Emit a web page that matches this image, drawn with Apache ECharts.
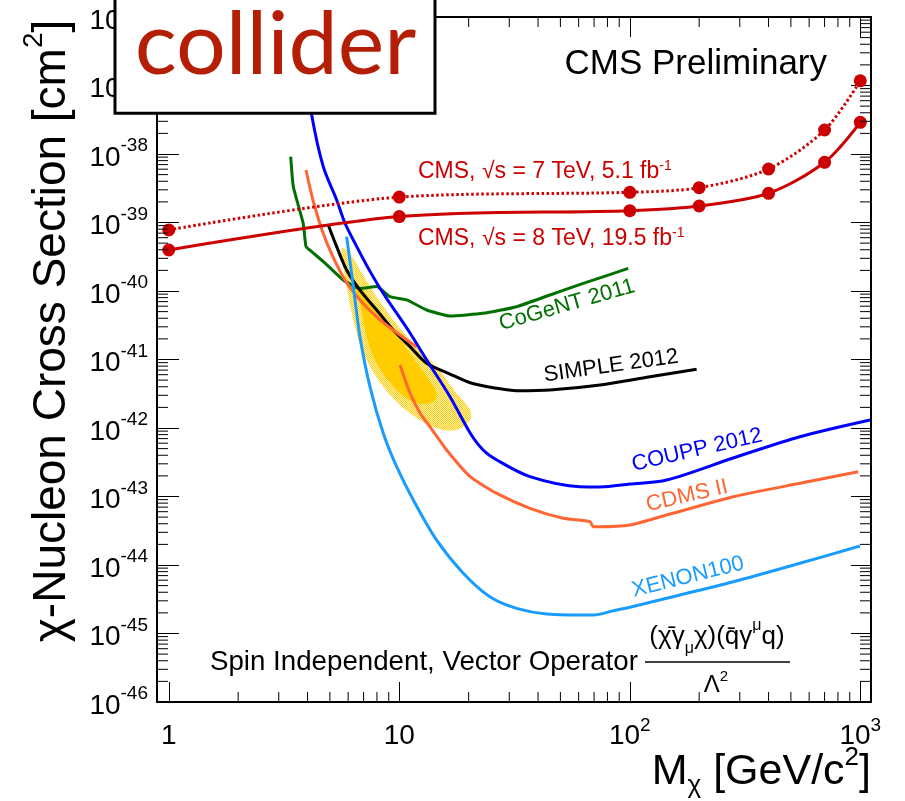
<!DOCTYPE html>
<html>
<head>
<meta charset="utf-8">
<title>Spin Independent, Vector Operator</title>
<script src="https://cdn.jsdelivr.net/npm/echarts@6.0.0/dist/echarts.min.js"></script>
<style>
  html, body { margin: 0; padding: 0; background: #fff; }
  #chart { width: 905px; height: 801px; }
</style>
</head>
<body>
<div id="chart"></div>
<script>
// limits: mass in GeV/c2, cross section in cm2
var cmsMass = [1, 10, 100, 200, 400, 700, 1000];
var cms7Xsec = [7.8e-40, 2.35e-39, 2.76e-39, 3.22e-39, 6.04e-39, 2.24e-38, 1.17e-37];
var cms8Xsec = [3.97e-40, 1.22e-39, 1.49e-39, 1.74e-39, 2.67e-39, 7.57e-39, 2.9e-38];

var couppMass = [3.6, 4.17, 4.68, 5.35, 5.81, 6.54, 7.34, 8.5, 11.13, 13.15, 16.6, 20.3, 23.1, 26.5, 36.9, 60.8, 74.3, 100, 144.5, 281, 547, 1102];
var couppXsec = [1.0e-36, 3.71e-38, 6.53e-39, 2.13e-39, 9.84e-40, 4.44e-40, 2.14e-40, 9.35e-41, 2.44e-41, 9.84e-42, 2.86e-42, 8.45e-43, 4.78e-43, 3.41e-43, 1.95e-43, 1.39e-43, 1.38e-43, 1.52e-43, 1.74e-43, 3.65e-43, 7.46e-43, 1.31e-42];

var cogentMass = [3.38, 3.47, 3.83, 3.94, 4.17, 4.76, 5.71, 6.75, 7.98, 9.11, 10.77, 13.15, 16.6, 23.1, 32.3, 45.1, 62.8, 98.5];
var cogentXsec = [9.14e-39, 3.33e-39, 9.72e-40, 4.44e-40, 3.75e-40, 2.56e-40, 1.45e-40, 1.09e-40, 1.16e-40, 8.26e-41, 7.4e-41, 5.28e-41, 4.32e-41, 4.72e-41, 5.9e-41, 8.75e-41, 1.29e-40, 2.14e-40];

var simpleMass = [4.92, 5.35, 5.91, 6.75, 7.98, 9.42, 11.13, 13.15, 16.6, 20.3, 26.5, 32.3, 45.1, 74.3, 122.4, 195];
var simpleXsec = [9.2e-40, 4.44e-40, 2.03e-40, 1.03e-40, 5.28e-41, 2.7e-41, 1.54e-41, 8.81e-42, 6.14e-42, 4.58e-42, 3.8e-42, 3.51e-42, 3.59e-42, 4.25e-42, 5.61e-42, 7.19e-42];

var cdmsLowMass = [3.94, 4.22, 4.62, 5.11, 5.81, 6.75, 8.25, 10.07, 11.9];
var cdmsLowXsec = [5.83e-39, 2.13e-39, 7.78e-40, 3.36e-40, 1.45e-40, 7.4e-41, 3.78e-41, 2.28e-41, 1.52e-41];

var cdmsMass = [10.07, 11.13, 12.3, 13.6, 16.05, 20.3, 26.5, 36.9, 51.5, 67.2, 69.4, 74.3, 100.2, 144.5, 281, 547, 980];
var cdmsXsec = [8.32e-42, 3.24e-42, 1.66e-42, 1.04e-42, 4.78e-43, 1.95e-43, 1.11e-43, 6.73e-44, 4.81e-44, 4.29e-44, 3.62e-44, 3.62e-44, 3.84e-44, 5.37e-44, 9.93e-44, 1.56e-43, 2.3e-43];

var xenonMass = [5.91, 6.32, 6.75, 7.46, 8.52, 9.74, 11.5, 14.5, 18.95, 24.7, 32.3, 43.6, 69.4, 84.8, 100.2, 144.5, 281, 547, 997];
var xenonXsec = [6.21e-40, 1.16e-40, 2.15e-41, 4.01e-42, 8.37e-43, 2.72e-43, 8.89e-44, 2.32e-44, 7.57e-45, 3.44e-45, 2.33e-45, 1.93e-45, 1.86e-45, 2.15e-45, 2.42e-45, 3.27e-45, 5.7e-45, 1.06e-44, 1.89e-44];

// DAMA-like allowed region (outer hatched and inner solid outlines)
var damaOuterMass = [5.62, 5.91, 6.32, 6.98, 8.52, 11.13, 14.5, 17.7, 20.3, 20.3, 17.7, 14.5, 11.13, 9.42, 7.98, 6.75, 6.11];
var damaOuterXsec = [4.2e-40, 1.16e-40, 3.78e-41, 1.24e-41, 4.01e-42, 1.64e-42, 9.91e-43, 9.35e-43, 1.31e-42, 1.83e-42, 3.21e-42, 7.85e-42, 1.93e-41, 3.78e-41, 8.26e-41, 2.03e-40, 3.55e-40];
var damaInnerMass = [6.32, 6.75, 7.22, 7.98, 9.74, 11.9, 14.05, 14.5, 13.15, 11.13, 9.42, 7.98, 6.98];
var damaInnerXsec = [1.45e-40, 6.61e-41, 2.15e-41, 8.81e-42, 3.59e-42, 2.3e-42, 2.42e-42, 3.21e-42, 5.61e-42, 1.23e-41, 2.7e-41, 5.28e-41, 1.03e-40];

// axis range and decade ticks (as powers of ten)
var massMin = 0.889, massMax = 1113;
var xsecMin = 1e-46, xsecMax = 1e-36;
var massDecades = [0, 1, 2, 3];
var xsecDecades = [-46, -45, -44, -43, -42, -41, -40, -39, -38, -37, -36];

var FONT = 'Liberation Sans';
var lg = Math.log10;

// axes run in decades (log10 of the value); minor ticks at 2..9 of each decade
var minorX = [], minorY = [];
massDecades.slice(0, 3).forEach(function (d) {
  for (var k = 2; k <= 9; k++) minorX.push(d + lg(k));
});
xsecDecades.slice(0, 10).forEach(function (d) {
  for (var k = 2; k <= 9; k++) minorY.push(d + lg(k));
});

function pairs(ms, ss) {
  return ms.map(function (m, i) { return [lg(m), lg(ss[i])]; });
}

// rich styles for a main text with superscript / subscript pieces
function scriptRich(F, S, H, dSup, dSub, color) {
  var k = 0.3465;
  var r = {
    b: { fontSize: F, fontFamily: FONT, lineHeight: H, verticalAlign: 'middle' },
    sup: { fontSize: S, fontFamily: FONT, height: H + 2 * k * (F - S) - 2 * dSup, verticalAlign: 'top' },
    sub: { fontSize: S, fontFamily: FONT, height: H - 2 * (k * (F - S) + dSub), verticalAlign: 'bottom' }
  };
  if (color) { r.b.fill = color; r.sup.fill = color; r.sub.fill = color; }
  return r;
}

function powLabel(v) {
  var p = Math.round(v);
  if (Math.abs(v - p) > 1e-6) return '';
  if (p === 0) return '{b|1}';
  if (p === 1) return '{b|10}';
  return '{b|10}{sup|' + p + '}';
}

// checker pattern for the hatched region
var hatch = document.createElement('canvas');
hatch.width = 2; hatch.height = 2;
var hc = hatch.getContext('2d');
hc.fillStyle = '#fff3c4'; hc.fillRect(0, 0, 2, 2);
hc.fillStyle = '#ffcc00'; hc.fillRect(0, 0, 1, 1); hc.fillRect(1, 1, 1, 1);

var regions = [
  { pts: pairs(damaOuterMass, damaOuterXsec), fill: { image: hatch, repeat: 'repeat' } },
  { pts: pairs(damaInnerMass, damaInnerXsec), fill: '#ffcc00' }
];

function curve(name, ms, ss, color, extra) {
  var s = {
    name: name,
    type: 'line',
    data: pairs(ms, ss),
    showSymbol: false,
    smooth: 0.3,
    lineStyle: { color: color, width: 3 },
    z: 3
  };
  for (var key in extra) s[key] = extra[key];
  return s;
}

var chart = echarts.init(document.getElementById('chart'));

function ax(extra) {
  var o = {
    type: 'value',
    scale: true,
    splitLine: { show: false },
    axisLine: { show: true, onZero: false, lineStyle: { color: '#000', width: 2 } },
    axisTick: { show: true, inside: true, length: 20, lineStyle: { color: '#000', width: 1 } },
    axisLabel: { show: false }
  };
  for (var key in extra) o[key] = extra[key];
  return o;
}

var xLabel = {
  show: true, margin: 16, color: '#000', formatter: powLabel,
  customValues: massDecades, rich: scriptRich(28, 19, 36, 13, 0)
};
var yLabel = {
  show: true, margin: 9, color: '#000', formatter: powLabel,
  customValues: xsecDecades, padding: [8, 0, 0, 0], rich: scriptRich(28, 19, 36, 15, 0)
};

var option = {
  animation: false,
  backgroundColor: '#fff',
  grid: { left: 157, right: 34, top: 17, bottom: 99, containLabel: false, outerBoundsMode: 'none' },
  xAxis: [
    ax({ position: 'bottom', min: lg(massMin), max: lg(massMax), axisLabel: xLabel,
      axisTick: { show: true, inside: true, length: 20, customValues: massDecades, lineStyle: { color: '#000', width: 1 } } }),
    ax({ position: 'top', min: lg(massMin), max: lg(massMax),
      axisTick: { show: true, inside: true, length: 20, customValues: massDecades, lineStyle: { color: '#000', width: 1 } } })
  ],
  yAxis: [
    ax({ position: 'left', min: lg(xsecMin), max: lg(xsecMax), interval: 1, axisLabel: yLabel,
      axisTick: { show: true, inside: true, length: 22, customValues: xsecDecades, lineStyle: { color: '#000', width: 1 } } }),
    ax({ position: 'right', min: lg(xsecMin), max: lg(xsecMax), interval: 1,
      axisTick: { show: true, inside: true, length: 20, customValues: xsecDecades, lineStyle: { color: '#000', width: 1 } } })
  ],
  series: [
    {
      name: 'DAMA region',
      type: 'custom',
      z: 1,
      silent: true,
      data: regions.map(function (r, i) { return [r.pts[0][0], r.pts[0][1], i]; }),
      renderItem: function (params, api) {
        var r = regions[api.value(2)];
        var pts = r.pts.map(function (p) { return api.coord(p); });
        return { type: 'polygon', shape: { points: pts, smooth: 0.35 }, style: { fill: r.fill } };
      }
    },
    curve('CoGeNT 2011', cogentMass, cogentXsec, '#007000', { smooth: 0.15 }),
    curve('SIMPLE 2012', simpleMass, simpleXsec, '#000000'),
    curve('CDMS II low', cdmsLowMass, cdmsLowXsec, '#ff6633'),
    curve('CDMS II', cdmsMass, cdmsXsec, '#ff6633', { smooth: 0.2 }),
    curve('XENON100', xenonMass, xenonXsec, '#1a9cff'),
    curve('COUPP 2012', couppMass, couppXsec, '#0000ff'),
    curve('CMS 8 TeV', cmsMass, cms8Xsec, '#cc0000', {
      showSymbol: true, symbol: 'circle', symbolSize: 13,
      itemStyle: { color: '#cc0000' }, z: 4
    }),
    curve('CMS 7 TeV', cmsMass, cms7Xsec, '#cc0000', {
      showSymbol: true, symbol: 'circle', symbolSize: 13,
      itemStyle: { color: '#cc0000' }, z: 4,
      lineStyle: { color: '#cc0000', width: 3, type: [2.5, 2.5] }
    }),
    {
      name: 'minor ticks',
      type: 'custom',
      z: 5,
      silent: true,
      data: minorX.map(function (v) { return [v, -41, 0]; })
        .concat(minorY.map(function (v) { return [1, v, 1]; })),
      renderItem: function (params, api) {
        var cs = params.coordSys;
        var p = api.coord([api.value(0), api.value(1)]);
        var st = { stroke: '#000', lineWidth: 1 };
        if (api.value(2) === 0) {
          return { type: 'group', children: [
            { type: 'line', shape: { x1: p[0], y1: cs.y + cs.height, x2: p[0], y2: cs.y + cs.height - 10 }, style: st },
            { type: 'line', shape: { x1: p[0], y1: cs.y, x2: p[0], y2: cs.y + 10 }, style: st }
          ] };
        }
        return { type: 'group', children: [
          { type: 'line', shape: { x1: cs.x, y1: p[1], x2: cs.x + 11, y2: p[1] }, style: st },
          { type: 'line', shape: { x1: cs.x + cs.width, y1: p[1], x2: cs.x + cs.width - 11, y2: p[1] }, style: st }
        ] };
      }
    }
  ],
  graphic: [
    // axis titles
    { type: 'text', x: 52, y: 331, rotation: Math.PI / 2, z: 50,
      style: { text: '{b|χ-Nucleon Cross Section [cm}{sup|2}{b|]}', fill: '#000', align: 'center', verticalAlign: 'middle',
        rich: scriptRich(46, 28, 64, 24, 0) } },
    { type: 'text', x: 871, y: 772, z: 50,
      style: { text: '{b|M}{sub|χ}{b| [GeV/c}{sup|2}{b|]}', fill: '#000', align: 'right', verticalAlign: 'middle',
        rich: scriptRich(43, 26, 60, 20, 8) } },
    // annotations
    { type: 'text', x: 827, y: 64, z: 50,
      style: { text: 'CMS Preliminary', fill: '#000', fontSize: 35, fontFamily: FONT, align: 'right', verticalAlign: 'middle' } },
    { type: 'text', x: 418, y: 172, z: 50,
      style: { text: '{b|CMS, √s = 7 TeV, 5.1 fb}{sup|-1}', fill: '#cc0000', align: 'left', verticalAlign: 'middle',
        rich: scriptRich(23, 14, 30, 9, 0, '#cc0000') } },
    { type: 'text', x: 418, y: 239, z: 50,
      style: { text: '{b|CMS, √s = 8 TeV, 19.5 fb}{sup|-1}', fill: '#cc0000', align: 'left', verticalAlign: 'middle',
        rich: scriptRich(23, 14, 30, 9, 0, '#cc0000') } },
    { type: 'text', x: 567, y: 305, rotation: 16 * Math.PI / 180, z: 50,
      style: { text: 'CoGeNT 2011', fill: '#007000', fontSize: 22, fontFamily: FONT, align: 'center', verticalAlign: 'middle' } },
    { type: 'text', x: 611, y: 366, rotation: 8 * Math.PI / 180, z: 50,
      style: { text: 'SIMPLE 2012', fill: '#000', fontSize: 22, fontFamily: FONT, align: 'center', verticalAlign: 'middle' } },
    { type: 'text', x: 697, y: 450, rotation: 13 * Math.PI / 180, z: 50,
      style: { text: 'COUPP 2012', fill: '#0000ff', fontSize: 22, fontFamily: FONT, align: 'center', verticalAlign: 'middle' } },
    { type: 'text', x: 687, y: 496, rotation: 13 * Math.PI / 180, z: 50,
      style: { text: 'CDMS II', fill: '#ff6633', fontSize: 22, fontFamily: FONT, align: 'center', verticalAlign: 'middle' } },
    { type: 'text', x: 688, y: 577, rotation: 14 * Math.PI / 180, z: 50,
      style: { text: 'XENON100', fill: '#1a9cff', fontSize: 22, fontFamily: FONT, align: 'center', verticalAlign: 'middle' } },
    { type: 'text', x: 210, y: 662, z: 50,
      style: { text: 'Spin Independent, Vector Operator', fill: '#000', fontSize: 27.7, fontFamily: FONT, align: 'left', verticalAlign: 'middle' } },
    { type: 'text', x: 717, y: 637, z: 50,
      style: { text: '{b|(χ̄γ}{sub|μ}{b|χ)(q̄γ}{sup|μ}{b|q)}', fill: '#000', align: 'center', verticalAlign: 'middle',
        rich: scriptRich(26, 16, 36, 15, 8) } },
    { type: 'line', z: 50, shape: { x1: 645, y1: 662, x2: 790, y2: 662 }, style: { stroke: '#000', lineWidth: 1.5 } },
    { type: 'text', x: 716, y: 685, z: 50,
      style: { text: '{b|Λ}{sup|2}', fill: '#000', align: 'center', verticalAlign: 'middle',
        rich: scriptRich(24, 15, 34, 11, 0) } },
    // inset label box
    { type: 'rect', z: 100, shape: { x: 115, y: -5, width: 320, height: 118.3 },
      style: { fill: '#fff', stroke: '#000', lineWidth: 3 } },
    { type: 'text', x: 275.5, y: 46, z: 101,
      style: { text: 'collider', fill: '#b41e05', fontSize: 88, fontFamily: 'Lato', align: 'center', verticalAlign: 'middle' } }
  ]
};

chart.setOption(option);
window.addEventListener('resize', function () { chart.resize(); });
</script>
</body>
</html>
